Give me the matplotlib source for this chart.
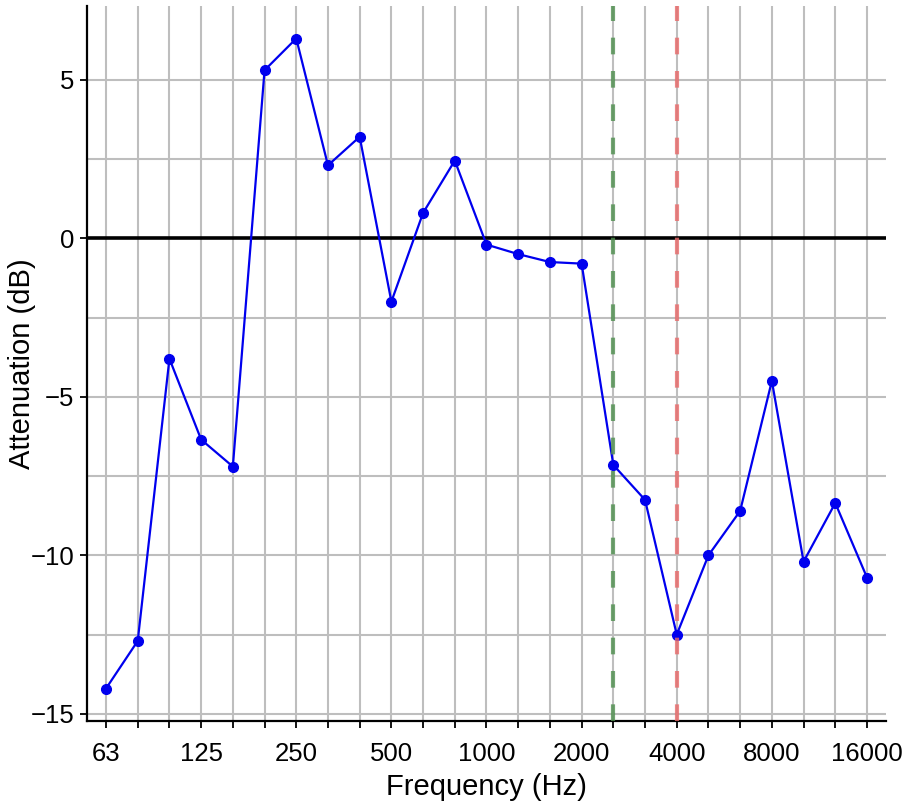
import numpy as np
import matplotlib
matplotlib.use("Agg")
import matplotlib.pyplot as plt

plt.rcParams["font.family"] = ["Liberation Sans", "DejaVu Sans"]

# third-octave band centre frequencies (Hz)
freqs = [63, 80, 100, 125, 160, 200, 250, 315, 400, 500, 630, 800, 1000,
         1250, 1600, 2000, 2500, 3150, 4000, 5000, 6300, 8000, 10000, 12500, 16000]
attenuation = [-14.2, -12.7, -3.8, -6.35, -7.2, 5.3, 6.3, 2.3, 3.2, -2.0, 0.8, 2.45, -0.2,
               -0.5, -0.75, -0.8, -7.15, -8.25, -12.5, -10.0, -8.6, -4.5, -10.2, -8.35, -10.7]
label_freqs = [63, 125, 250, 500, 1000, 2000, 4000, 8000, 16000]
green_freq = 2500
red_freq = 4000

x = np.arange(len(freqs))
pos = {f: i for i, f in enumerate(freqs)}

fig = plt.figure(figsize=(9.03, 8.11), dpi=100)
ax = fig.add_axes([87 / 903, (811 - 721) / 811, (886 - 87) / 903, (721 - 6) / 811])

# grid
for i in x:
    ax.axvline(i, color="#bebebe", lw=1.5, zorder=0)
for yv in np.arange(-15, 7.5, 2.5):
    ax.axhline(yv, color="#bebebe", lw=1.5, zorder=0)

ax.axhline(0, color="black", lw=2.6, zorder=1)
ax.plot(x, attenuation, color="#0000ee", lw=1.6, marker="o", ms=7, zorder=2)

# reference markers drawn over the data
ax.axvline(pos[green_freq], color="#4f8f4f", lw=3, alpha=0.8, dashes=(4, 4), zorder=3)
ax.axvline(pos[red_freq], color="#e86a6a", lw=3, alpha=0.8, dashes=(4, 4), zorder=3)

ax.set_xlim(-0.6, len(freqs) - 1 + 0.6)
ax.set_ylim(-15.225, 7.325)
ax.set_xticks(x)
ax.set_xticklabels([str(f) if f in label_freqs else "" for f in freqs])
ax.set_yticks([-15, -10, -5, 0, 5])
ax.set_yticklabels(["\u221215", "\u221210", "\u22125", "0", "5"])

ax.tick_params(axis="both", labelsize=18.5, length=5, width=1.3, colors="black")
ax.tick_params(axis="x", pad=10)
ax.tick_params(axis="y", pad=4)
for s in ["top", "right"]:
    ax.spines[s].set_visible(False)
for s in ["left", "bottom"]:
    ax.spines[s].set_linewidth(1.6)

ax.set_xlabel("Frequency (Hz)", fontsize=21, labelpad=5)
ax.set_ylabel("Attenuation (dB)", fontsize=21, labelpad=-4)

fig.savefig("out.png", dpi=100)
